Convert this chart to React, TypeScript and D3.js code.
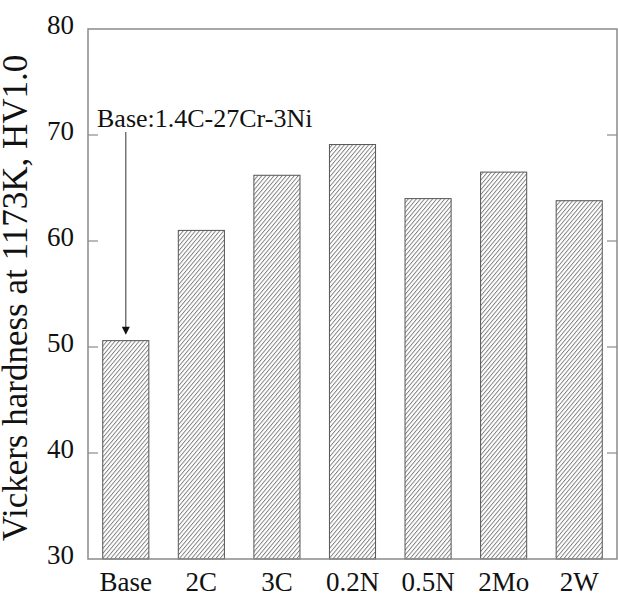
import { useEffect, useRef } from 'react';
import * as d3 from 'd3';

const categories = ['Base', '2C', '3C', '0.2N', '0.5N', '2Mo', '2W'];
const hardness = [50.6, 61.0, 66.2, 69.1, 64.0, 66.5, 63.8];
const yTicks = [30, 40, 50, 60, 70, 80];
const yLabel = 'Vickers hardness at 1173K, HV1.0';
const note = 'Base:1.4C-27Cr-3Ni';

export default function App() {
  const ref = useRef<SVGSVGElement>(null);

  useEffect(() => {
    if (!ref.current) return;
    const W = 618, H = 599;
    const margin = { top: 29, right: 1, bottom: 40, left: 88 };
    const font = '"Liberation Serif", "Times New Roman", serif';

    const svg = d3.select(ref.current);
    svg.selectAll('*').remove();

    const x = d3.scaleBand<string>()
      .domain(categories)
      .range([margin.left, W - margin.right])
      .paddingInner(0.39)
      .paddingOuter(0.195);

    const y = d3.scaleLinear()
      .domain([30, 80])
      .range([H - margin.bottom, margin.top]);

    // hatch pattern
    const defs = svg.append('defs');
    const pat = defs.append('pattern')
      .attr('id', 'hatch')
      .attr('patternUnits', 'userSpaceOnUse')
      .attr('width', 3.1)
      .attr('height', 10)
      .attr('patternTransform', 'rotate(40)');
    pat.append('line')
      .attr('x1', 0.5).attr('y1', 0)
      .attr('x2', 0.5).attr('y2', 10)
      .attr('stroke', '#6a6a6a')
      .attr('stroke-width', 0.8);

    // bars
    svg.append('g')
      .selectAll('rect')
      .data(categories)
      .join('rect')
      .attr('x', d => x(d)!)
      .attr('width', x.bandwidth())
      .attr('y', (d, i) => y(hardness[i]))
      .attr('height', (d, i) => y(30) - y(hardness[i]))
      .attr('fill', 'url(#hatch)')
      .attr('stroke', '#555')
      .attr('stroke-width', 1);

    // frame
    svg.append('rect')
      .attr('x', margin.left)
      .attr('y', margin.top)
      .attr('width', W - margin.left - margin.right)
      .attr('height', H - margin.top - margin.bottom)
      .attr('fill', 'none')
      .attr('stroke', '#8a8a8a')
      .attr('stroke-width', 1.5);

    // ticks left and right
    const tk = svg.append('g').attr('stroke', '#8a8a8a').attr('stroke-width', 1.2);
    yTicks.slice(1, -1).forEach(t => {
      tk.append('line').attr('x1', margin.left).attr('x2', margin.left + 10)
        .attr('y1', y(t)).attr('y2', y(t));
      tk.append('line').attr('x1', W - margin.right - 10).attr('x2', W - margin.right)
        .attr('y1', y(t)).attr('y2', y(t));
    });

    // y tick labels
    svg.append('g')
      .selectAll('text')
      .data(yTicks)
      .join('text')
      .attr('x', 74)
      .attr('y', d => y(d) + 5)
      .attr('text-anchor', 'end')
      .style('font-family', font)
      .style('font-size', '27px')
      .attr('fill', '#111')
      .text(d => d);

    // x labels
    svg.append('g')
      .selectAll('text')
      .data(categories)
      .join('text')
      .attr('x', d => x(d)! + x.bandwidth() / 2)
      .attr('y', 591)
      .attr('text-anchor', 'middle')
      .style('font-family', font)
      .style('font-size', '27px')
      .attr('fill', '#111')
      .text(d => d);

    // y axis title
    svg.append('text')
      .attr('transform', `translate(27,${(margin.top + H - margin.bottom) / 2 + 4}) rotate(-90)`)
      .attr('text-anchor', 'middle')
      .style('font-family', font)
      .style('font-size', '35px')
      .attr('fill', '#111')
      .text(yLabel);

    // annotation + arrow
    const cx = x('Base')! + x.bandwidth() / 2;
    const tip = y(hardness[0]) - 6;
    svg.append('text')
      .attr('x', 97)
      .attr('y', 127)
      .style('font-family', font)
      .style('font-size', '26px')
      .attr('fill', '#111')
      .text(note);
    svg.append('line')
      .attr('x1', cx).attr('x2', cx)
      .attr('y1', 132).attr('y2', tip - 6)
      .attr('stroke', '#555')
      .attr('stroke-width', 1.2);
    svg.append('path')
      .attr('d', `M${cx - 4},${tip - 8}L${cx + 4},${tip - 8}L${cx},${tip}Z`)
      .attr('fill', '#111');
  }, []);

  return (
    <svg
      ref={ref}
      width={618}
      height={599}
      style={{ position: 'absolute', left: 0, top: 0, background: '#fff' }}
    />
  );
}
